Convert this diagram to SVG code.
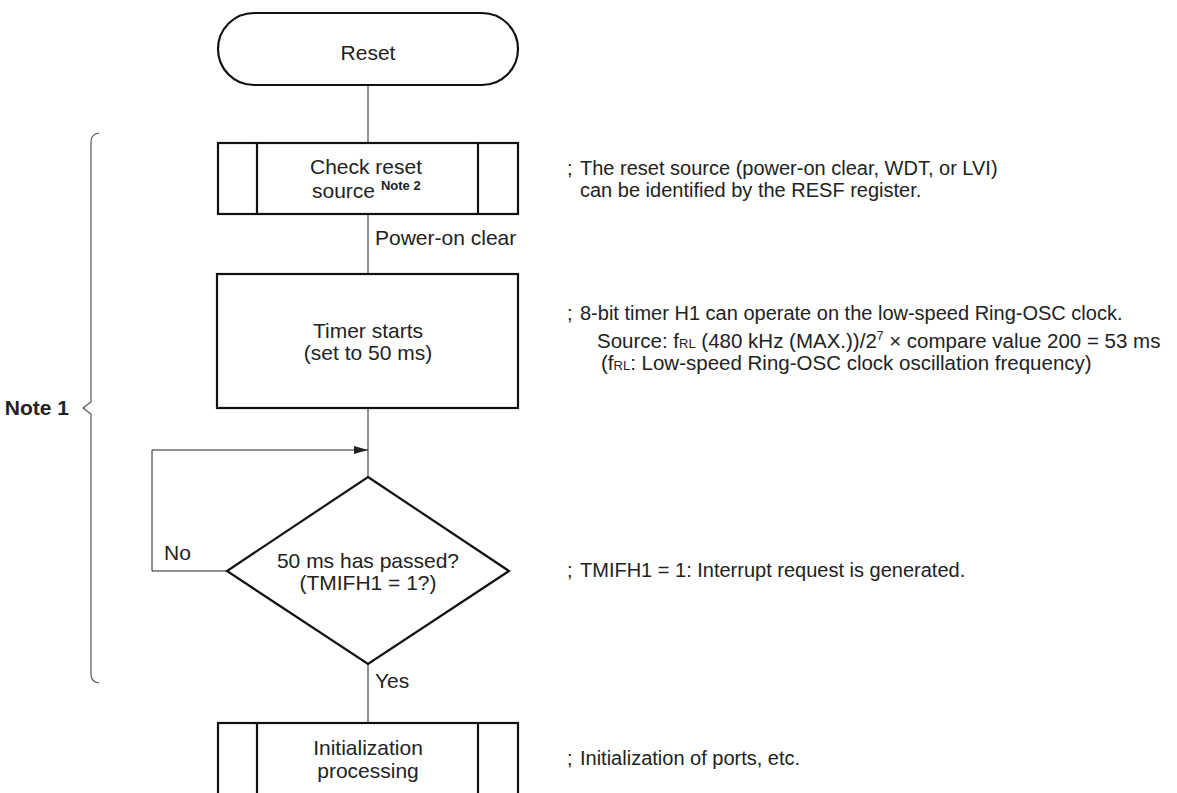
<svg xmlns="http://www.w3.org/2000/svg" width="1177" height="793" viewBox="0 0 1177 793">
<style>
text{font-family:"Liberation Sans",Arial,sans-serif;fill:#222;font-size:21px}
.c{text-anchor:middle}
.box{fill:#fff;stroke:#111;stroke-width:2.2}
.ln{fill:none;stroke:#222;stroke-width:1}
.brace{fill:none;stroke:#555;stroke-width:1.2}
.b{font-weight:bold}
.sm{font-size:13px}
.an{font-size:20px}
.src{font-size:20.5px}
</style>
<defs>
<marker id="arr" markerWidth="14" markerHeight="8" refX="14" refY="4" orient="auto" markerUnits="userSpaceOnUse">
<path d="M0,0 L14,4 L0,8 Z" fill="#222"/>
</marker>
</defs>
<g id="connectors">
<line class="ln" x1="368" y1="85" x2="368" y2="143"/>
<line class="ln" x1="368" y1="214" x2="368" y2="274"/>
<line class="ln" x1="368" y1="408" x2="368" y2="477"/>
<polyline class="ln" points="227,571 152,571 152,450 368,450" marker-end="url(#arr)"/>
<line class="ln" x1="368" y1="664" x2="368" y2="723"/>
<text x="375" y="245">Power-on clear</text>
<text x="164" y="560">No</text>
<text x="375" y="688">Yes</text>
</g>
<g id="reset">
<rect class="box" x="218" y="13" width="300" height="72" rx="36" ry="36"/>
<text class="c" x="368" y="60">Reset</text>
</g>
<g id="check">
<rect class="box" x="218" y="143" width="300" height="71"/>
<line class="box" x1="257" y1="143" x2="257" y2="214"/>
<line class="box" x1="478" y1="143" x2="478" y2="214"/>
<text class="c" x="366" y="174">Check reset</text>
<text x="312" y="198">source <tspan class="b sm" dy="-8">Note 2</tspan></text>
</g>
<g id="timer">
<rect class="box" x="217" y="274" width="301" height="134"/>
<text class="c" x="368" y="338">Timer starts</text>
<text class="c" x="368" y="360">(set to 50 ms)</text>
</g>
<g id="decision">
<polygon class="box" points="368,477 509,571 368,664 227,571"/>
<text class="c" x="368" y="568">50 ms has passed?</text>
<text class="c" x="368" y="590">(TMIFH1 = 1?)</text>
</g>
<g id="init">
<rect class="box" x="218" y="723" width="300" height="90"/>
<line class="box" x1="257" y1="723" x2="257" y2="800"/>
<line class="box" x1="478" y1="723" x2="478" y2="800"/>
<text class="c" x="368" y="755">Initialization</text>
<text class="c" x="368" y="778">processing</text>
</g>
<g id="note1">
<path class="brace" d="M99,133 Q91,134 91,142 L91,402 L83,408 L91,414 L91,674 Q91,682 99,683"/>
<text class="b" x="69" y="415" font-size="18" text-anchor="end">Note 1</text>
</g>
<g id="annotations">
<text class="an" x="567" y="175">;</text>
<text class="an" x="580" y="175">The reset source (power-on clear, WDT, or LVI)</text>
<text class="an" x="580" y="197">can be identified by the RESF register.</text>
<text class="an" x="567" y="320">;</text>
<text class="an" x="580" y="320">8-bit timer H1 can operate on the low-speed Ring-OSC clock.</text>
<text class="src" x="597" y="348">Source: f<tspan font-size="13">RL</tspan> (480 kHz (MAX.))/2<tspan font-size="12" dy="-8">7</tspan><tspan dy="8"> × compare value 200 = 53 ms</tspan></text>
<text class="src" x="601" y="370">(f<tspan font-size="13">RL</tspan>: Low-speed Ring-OSC clock oscillation frequency)</text>
<text class="an" x="567" y="577">;</text>
<text class="an" x="580" y="577">TMIFH1 = 1: Interrupt request is generated.</text>
<text class="an" x="567" y="765">;</text>
<text class="an" x="580" y="765">Initialization of ports, etc.</text>
</g>
</svg>
